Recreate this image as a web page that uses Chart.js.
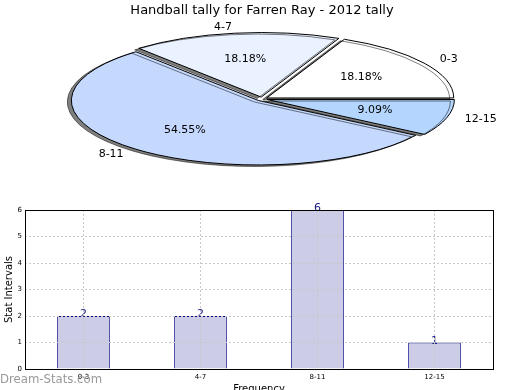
<!DOCTYPE html>
<html>
<head>
<meta charset="utf-8">
<script src="https://cdn.jsdelivr.net/npm/chart.js@4/dist/chart.umd.min.js"></script>
<style>
    html, body { margin: 0; padding: 0; background: #fff; }
    body { width: 520px; height: 390px; overflow: hidden; position: relative; }
    #pieChart { position: absolute; left: 0; top: 0; }
    #barChart { position: absolute; left: 0; top: 190px; }
    #mark {
        position: absolute; left: 0; top: 371px;
        font: 13px "DejaVu Sans", sans-serif; font-stretch: condensed;
        color: #999; white-space: nowrap;
    }
</style>
</head>
<body>
<canvas id="pieChart" width="520" height="200"></canvas>
<canvas id="barChart" width="520" height="210"></canvas>
<div id="mark">Dream-Stats.com</div>
<script>
// =========================
// DATA
// =========================
const labels = ["0-3", "4-7", "8-11", "12-15"];
const counts = [2, 2, 6, 1];
const pieColors = ["#ffffff", "#eaf1ff", "#c5d9fe", "#b4d6fe"];
const yTicks = [0, 1, 2, 3, 4, 5, 6];

const FONT = "DejaVu Sans";
const SQUASH = 0.345;   // pie is drawn as a flat ellipse
const EXPLODE = 0.03;   // every slice pulled out a little

// =========================
// PIE (ELLIPSE) CHART
// =========================
// matplotlib goes counter-clockwise from 3 o'clock, chart.js clockwise -> reverse
const pieLabels = labels.slice().reverse();
const pieData = counts.slice().reverse();
const pieFill = pieColors.slice().reverse();
const total = counts.reduce((a, b) => a + b, 0);

const ellipse = {
    id: "ellipse",
    afterDatasetsUpdate(chart) {
        chart.getDatasetMeta(0).data.forEach(a => {
            const mid = (a.startAngle + a.endAngle) / 2;
            a.x += Math.cos(mid) * EXPLODE * a.outerRadius;
            a.y += Math.sin(mid) * EXPLODE * a.outerRadius;
        });
    },
    beforeDatasetsDraw(chart) {
        const ctx = chart.ctx;
        const cy = (chart.chartArea.top + chart.chartArea.bottom) / 2;
        const dpr = chart.currentDevicePixelRatio;
        ctx.save();
        ctx.translate(0, cy);
        ctx.scale(1, SQUASH);
        ctx.translate(0, -cy);
        ctx.shadowColor = "rgba(0,0,0,0.5)";
        ctx.shadowOffsetX = -4;
        ctx.shadowOffsetY = 1.5;
        // keep the outline 1px thick after squashing
        const stroke = ctx.stroke;
        ctx.stroke = function () {
            this.save();
            this.setTransform(dpr, 0, 0, dpr, 0, 0);
            stroke.apply(this, arguments);
            this.restore();
        };
    },
    afterDatasetsDraw(chart) {
        const ctx = chart.ctx;
        delete ctx.stroke;
        ctx.restore();

        const cy = (chart.chartArea.top + chart.chartArea.bottom) / 2;
        ctx.save();
        ctx.font = "11px " + FONT;
        ctx.fillStyle = "#000";
        ctx.textBaseline = "middle";
        chart.getDatasetMeta(0).data.forEach((a, i) => {
            const mid = (a.startAngle + a.endAngle) / 2;
            const r = a.outerRadius;
            const at = f => [
                a.x + Math.cos(mid) * r * f,
                cy + (a.y + Math.sin(mid) * r * f - cy) * SQUASH
            ];
            // percentage
            let [px, py] = at(0.6);
            ctx.textAlign = "center";
            ctx.fillText((pieData[i] / total * 100).toFixed(2) + "%", px, py);
            // label
            [px, py] = at(1.1);
            ctx.textAlign = Math.cos(mid) > 0 ? "left" : "right";
            ctx.fillText(pieLabels[i], px, py);
        });
        ctx.restore();
    }
};

new Chart(document.getElementById("pieChart"), {
    type: "pie",
    data: {
        labels: pieLabels,
        datasets: [{
            data: pieData,
            backgroundColor: pieFill,
            borderColor: "#000",
            borderWidth: 1,
            clip: false
        }]
    },
    options: {
        responsive: false,
        animation: false,
        rotation: 90,
        radius: 187,
        layout: { padding: { left: 4, bottom: 20.6 } },
        events: [],
        plugins: {
            legend: { display: false },
            tooltip: { enabled: false },
            title: {
                display: true,
                text: "Handball tally for Farren Ray - 2012 tally",
                color: "#000",
                font: { family: FONT, size: 13, weight: "normal" },
                padding: { top: 3, bottom: 0 }
            }
        }
    },
    plugins: [ellipse]
});

// =========================
// BAR CHART
// =========================
const frame = {
    id: "frame",
    afterDatasetsDraw(chart) {
        const ctx = chart.ctx;
        ctx.save();
        ctx.font = "11px " + FONT;
        ctx.fillStyle = "#1a1a80";
        ctx.textAlign = "center";
        ctx.textBaseline = "alphabetic";
        chart.getDatasetMeta(0).data.forEach((b, i) => {
            ctx.fillText(String(counts[i]), b.x, b.y + 1);
        });
        ctx.restore();
    },
    afterDraw(chart) {
        const { left, top, right, bottom } = chart.chartArea;
        const ctx = chart.ctx;
        ctx.save();
        ctx.strokeStyle = "#000";
        ctx.lineWidth = 1;
        ctx.strokeRect(Math.round(left) + 0.5, Math.round(top) + 0.5,
            Math.round(right - left), Math.round(bottom - top));
        ctx.restore();
    }
};

new Chart(document.getElementById("barChart"), {
    type: "bar",
    data: {
        labels: labels,
        datasets: [{
            data: counts,
            backgroundColor: "#ccccE6",
            borderColor: "#000080",
            borderWidth: 1,
            barPercentage: 0.45,
            categoryPercentage: 1
        }]
    },
    options: {
        responsive: false,
        animation: false,
        events: [],
        layout: { padding: { top: 20, right: 27, left: 0, bottom: 5 } },
        plugins: {
            legend: { display: false },
            tooltip: { enabled: false }
        },
        scales: {
            x: {
                grid: { offset: false, color: "#c8c8c8", drawTicks: false, z: 1 },
                border: { display: false, dash: [2, 2] },
                ticks: { color: "#000", padding: 4, font: { family: FONT, size: 7 } },
                title: {
                    display: true, text: "Frequency", color: "#000",
                    font: { family: FONT, size: 10 }, padding: { top: 0, bottom: 0 }
                },
                afterFit(s) { s.height = 26; }
            },
            y: {
                min: yTicks[0],
                max: yTicks[yTicks.length - 1],
                afterBuildTicks(s) { s.ticks = yTicks.map(v => ({ value: v })); },
                grid: { color: "#c8c8c8", drawTicks: false, z: 1 },
                border: { display: false, dash: [2, 2] },
                ticks: { color: "#000", padding: 3, font: { family: FONT, size: 7 } },
                title: {
                    display: true, text: "Stat Intervals", color: "#000",
                    font: { family: FONT, size: 10 }, padding: { top: 3, bottom: 0 }
                },
                afterFit(s) { s.width = 25; }
            }
        }
    },
    plugins: [frame]
});
</script>
</body>
</html>
